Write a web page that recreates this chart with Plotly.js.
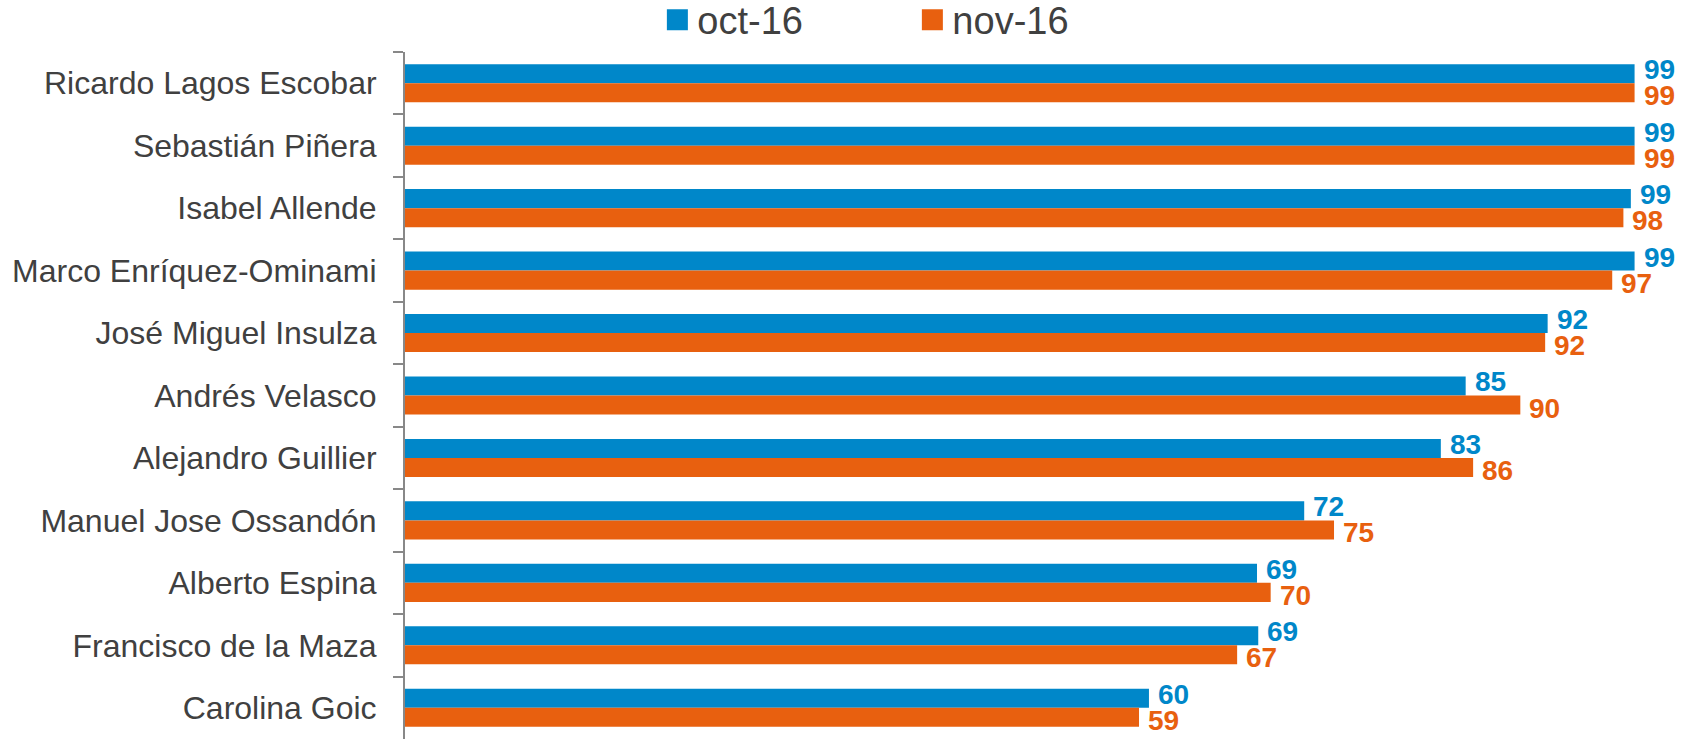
<!DOCTYPE html>
<html>
<head>
<meta charset="utf-8">
<script src="https://cdn.plot.ly/plotly-3.0.1.min.js"></script>
<style>html,body{margin:0;padding:0;background:#fff;}#chart{width:1686px;height:739px;}</style>
</head>
<body>
<div id="chart"></div>
<script>
var categories = ["Ricardo Lagos Escobar","Sebastián Piñera","Isabel Allende","Marco Enríquez-Ominami","José Miguel Insulza","Andrés Velasco","Alejandro Guillier","Manuel Jose Ossandón","Alberto Espina","Francisco de la Maza","Carolina Goic"];
var seriesNames = ["oct-16","nov-16"];
var octValues = [99, 99, 98.7, 99, 92, 85.4, 83.4, 72.4, 68.6, 68.7, 59.9];
var novValues = [99, 99, 98.1, 97.2, 91.8, 89.8, 86, 74.8, 69.7, 67, 59.1];
var colors = ["#0087C9", "#E8600F"];

var FONT = "Liberation Sans, Arial, sans-serif";
var BARGAP = 0.39;

function makeTrace(name, vals, color) {
  return {
    type: "bar", orientation: "h", name: name,
    y: categories, x: vals,
    marker: {color: color},
    hoverinfo: "skip"
  };
}
var data = [makeTrace(seriesNames[0], octValues, colors[0]), makeTrace(seriesNames[1], novValues, colors[1])];

// value labels, placed at each bar's end through the axes
var series = [octValues, novValues];
var half = (1 - BARGAP) / 4;
var annotations = [];
series.forEach(function (vals, s) {
  vals.forEach(function (v, j) {
    annotations.push({
      xref: "x", yref: "y",
      x: v, y: j + (s === 0 ? -half : half),
      text: String(Math.round(v)),
      showarrow: false, xanchor: "left", yanchor: "middle",
      xshift: 7, yshift: s === 0 ? 4 : -3,
      font: {family: FONT, size: 28, color: colors[s], weight: "bold"}
    });
  });
});

var layout = {
  width: 1686, height: 739,
  margin: {l: 405, r: 39, t: 52, b: 0, pad: 0},
  paper_bgcolor: "#fff", plot_bgcolor: "#fff",
  barmode: "group", bargap: BARGAP, bargroupgap: 0,
  font: {family: FONT, color: "#404040"},
  xaxis: {range: [0, 100], visible: false, fixedrange: true},
  yaxis: {
    autorange: false, range: [10.5, -0.5], type: "category",
    showline: true, linecolor: "#888888", linewidth: 2,
    ticks: "outside", ticklen: 10, tickcolor: "#888888", tickwidth: 2,
    tickson: "boundaries", showgrid: false, zeroline: false,
    tickfont: {size: 32, color: "#404040"}, ticklabelstandoff: 20
  },
  annotations: annotations,
  showlegend: true,
  legend: {orientation: "h", x: 0.2032, xanchor: "left", y: 0.973, yref: "container", yanchor: "middle",
    font: {size: 38, color: "#404040"}, entrywidth: 210, entrywidthmode: "pixels", traceorder: "normal"}
};
Plotly.newPlot("chart", data, layout, {displayModeBar: false, staticPlot: true}).then(function (gd) {
  // enlarge legend swatches to match the reference's square markers
  var pts = gd.querySelectorAll(".legendpoints path");
  pts.forEach(function (p) {
    var t = p.getAttribute("transform") || "";
    p.setAttribute("transform", t + " scale(1.75)");
  });
});
</script>
</body>
</html>
